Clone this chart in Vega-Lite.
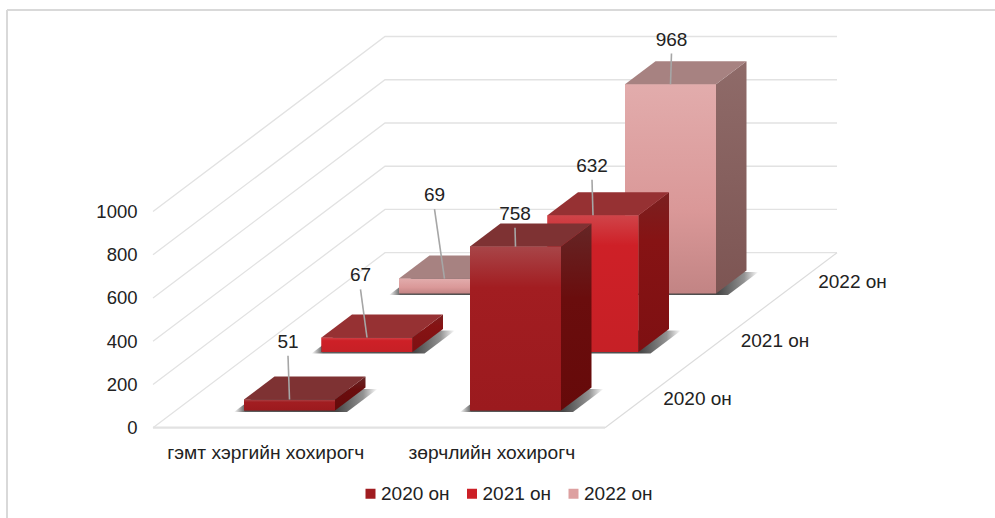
{
"$schema":"https://vega.github.io/schema/vega-lite/v6.json",
"width":995,"height":518,"padding":0,"autosize":{"type":"none"},"background":"white",
"config":{"view":{"stroke":null},"font":"Liberation Sans"},
"datasets":{"grid":[{"value":0},{"value":200},{"value":400},{"value":600},{"value":800},{"value":1000}]},
"data":{"values":[
{"cat":"гэмт хэргийн хохирогч","series":"2020 он","value":51},
{"cat":"гэмт хэргийн хохирогч","series":"2021 он","value":67},
{"cat":"гэмт хэргийн хохирогч","series":"2022 он","value":69},
{"cat":"зөрчлийн хохирогч","series":"2020 он","value":758},
{"cat":"зөрчлийн хохирогч","series":"2021 он","value":632},
{"cat":"зөрчлийн хохирогч","series":"2022 он","value":968}]},
"transform":[
{"calculate":"datum.cat=='гэмт хэргийн хохирогч'?0:1","as":"ci"},
{"calculate":"indexof(['2020 он','2021 он','2022 он'],datum.series)","as":"si"},
{"calculate":"datum.cat+datum.series","as":"key"},
{"calculate":"[0,1]","as":"t"},{"flatten":["t"]},
{"calculate":"244+226*datum.ci+77.5*datum.si+30.5*datum.t","as":"xa"},
{"calculate":"datum.xa+91","as":"xb"},
{"calculate":"datum.xa-10","as":"xsa"},
{"calculate":"datum.xb+12","as":"xsb"},
{"calculate":"79.6+270.6*datum.si+106.4*datum.t","as":"ub"},
{"calculate":"datum.ub+datum.value","as":"ut"},
{"calculate":"datum.ub-7","as":"us"},
{"calculate":"datum.xa+45.5","as":"xm"},
{"calculate":"datum.xm+[-1.5,-6.5,-10,-0.5,-1,1][indexof([51,67,69,758,632,968],datum.value)]","as":"xl"},
{"calculate":"datum.ut+[202,223,321,87,165,142][indexof([51,67,69,758,632,968],datum.value)]","as":"ul"},
{"calculate":"datum.xa+453.5","as":"xsl"},
{"calculate":"datum.ub+53","as":"usl"},
{"calculate":"datum.xa+21.8","as":"xcl"}
],
"layer":[
{"data":{"values":[{}]},"mark":{"type":"rule","stroke":"#d9d9d9","strokeWidth":2},"encoding":{
 "x":{"datum":7,"type":"quantitative","scale":{"domain":[0,995],"nice":false,"zero":false},"axis":null},
 "y":{"datum":1932,"type":"quantitative","scale":{"domain":[-417.7,1978.3],"nice":false,"zero":false},"axis":{"values":[0,200,400,600,800,1000],"format":"d","offset":-137,"domain":false,"ticks":false,"grid":false,"labelPadding":0,"labelFontSize":18.5,"labelColor":"#222222","labelFont":"Liberation Sans","title":null}},
 "y2":{"datum":-417.7}}},
{"data":{"values":[{}]},"mark":{"type":"rule","stroke":"#d9d9d9","strokeWidth":2},"encoding":{
 "x":{"datum":7,"type":"quantitative"},"x2":{"datum":995},
 "y":{"datum":1932,"type":"quantitative"}}},
{"data":{"name":"grid"},"transform":[{"calculate":"[0,1,2]","as":"k"},{"flatten":["k"]},
  {"calculate":"[153,385,837][datum.k]","as":"gx"},{"calculate":"datum.value+(datum.k==0?0:809.4)","as":"gu"}],
 "mark":{"type":"line","stroke":"#e2e2e2","strokeWidth":1.3},
 "encoding":{"x":{"field":"gx","type":"quantitative"},"y":{"field":"gu","type":"quantitative"},"detail":{"field":"value"}}},
{"data":{"values":[{}]},"mark":{"type":"rule","stroke":"#e2e2e2","strokeWidth":2.2},"encoding":{
 "x":{"datum":153,"type":"quantitative"},"x2":{"datum":605},"y":{"datum":0,"type":"quantitative"}}},
{"data":{"values":[{}]},"mark":{"type":"rule","stroke":"#dcdcdc","strokeWidth":1.2},"encoding":{
 "x":{"datum":605,"type":"quantitative"},"x2":{"datum":837},"y":{"datum":0,"type":"quantitative"},"y2":{"datum":809.4}}},

{"transform":[{"filter":"datum.t==0"}],"mark":{"type":"rect"},"encoding":{
 "x":{"field":"xa","type":"quantitative"},"x2":{"field":"xb"},"y":{"field":"ub","type":"quantitative"},"y2":{"field":"ut"},
 "color":{"field":"series","type":"nominal","scale":{"domain":["2020 он","2021 он","2022 он"],"range":["#a01c20","#cc2027","#dda0a0"]},
  "legend":{"title":null,"orient":"none","legendX":361,"legendY":484,"direction":"horizontal","columns":3,"symbolType":"square","symbolSize":100,"labelFontSize":19,"labelColor":"#222222","labelFont":"Liberation Sans","labelOffset":1,"columnPadding":12.5,"symbolStrokeWidth":0}}}},

{"mark":{"type":"area","orient":"horizontal","fill":{"gradient":"linear","x1":0,"y1":0,"x2":1,"y2":0,"stops":[{"offset":0,"color":"rgba(40,40,40,0)"},{"offset":0.08,"color":"rgba(40,40,40,0.75)"},{"offset":0.72,"color":"rgba(40,40,40,0.85)"},{"offset":0.9,"color":"rgba(40,40,40,0.5)"},{"offset":1,"color":"rgba(40,40,40,0)"}]}},
 "encoding":{"y":{"field":"us","type":"quantitative","stack":null},"x":{"field":"xsa","type":"quantitative","stack":null},"x2":{"field":"xsb"},"detail":{"field":"key"}}},

{"transform":[{"filter":"datum.si==2&&datum.t==0"}],"mark":{"type":"rect","fill":{"gradient":"linear","x1":0,"y1":0,"x2":0,"y2":1,"stops":[{"offset":0,"color":"#e2acac"},{"offset":0.6,"color":"#da9898"},{"offset":1,"color":"#c28484"}]}},
 "encoding":{"x":{"field":"xa","type":"quantitative"},"x2":{"field":"xb"},"y":{"field":"ub","type":"quantitative"},"y2":{"field":"ut"}}},
{"transform":[{"filter":"datum.si==2"}],"mark":{"type":"area","orient":"vertical","fill":{"gradient":"linear","x1":0,"y1":0,"x2":0,"y2":1,"stops":[{"offset":0,"color":"#8f6b69"},{"offset":1,"color":"#7d5553"}]}},
 "encoding":{"x":{"field":"xb","type":"quantitative","stack":null},"y":{"field":"ub","type":"quantitative","stack":null},"y2":{"field":"ut"},"detail":{"field":"key"}}},
{"transform":[{"filter":"datum.si==2"}],"mark":{"type":"area","orient":"horizontal","fill":"#a78281"},
 "encoding":{"y":{"field":"ut","type":"quantitative","stack":null},"x":{"field":"xa","type":"quantitative","stack":null},"x2":{"field":"xb"},"detail":{"field":"key"}}},

{"transform":[{"filter":"datum.si==1&&datum.t==0"}],"mark":{"type":"rect","fill":{"gradient":"linear","x1":0,"y1":0,"x2":0,"y2":1,"stops":[{"offset":0,"color":"#d04449"},{"offset":0.22,"color":"#ce2027"},{"offset":1,"color":"#c62026"}]}},
 "encoding":{"x":{"field":"xa","type":"quantitative"},"x2":{"field":"xb"},"y":{"field":"ub","type":"quantitative"},"y2":{"field":"ut"}}},
{"transform":[{"filter":"datum.si==1"}],"mark":{"type":"area","orient":"vertical","fill":{"gradient":"linear","x1":0,"y1":0,"x2":0,"y2":1,"stops":[{"offset":0,"color":"#7a2020"},{"offset":0.3,"color":"#861314"},{"offset":1,"color":"#7e1012"}]}},
 "encoding":{"x":{"field":"xb","type":"quantitative","stack":null},"y":{"field":"ub","type":"quantitative","stack":null},"y2":{"field":"ut"},"detail":{"field":"key"}}},
{"transform":[{"filter":"datum.si==1"}],"mark":{"type":"area","orient":"horizontal","fill":"#963133"},
 "encoding":{"y":{"field":"ut","type":"quantitative","stack":null},"x":{"field":"xa","type":"quantitative","stack":null},"x2":{"field":"xb"},"detail":{"field":"key"}}},

{"transform":[{"filter":"datum.si==0&&datum.t==0"}],"mark":{"type":"rect","fill":{"gradient":"linear","x1":0,"y1":0,"x2":0,"y2":1,"stops":[{"offset":0,"color":"#a84548"},{"offset":0.25,"color":"#a21d21"},{"offset":1,"color":"#9b1a1e"}]}},
 "encoding":{"x":{"field":"xa","type":"quantitative"},"x2":{"field":"xb"},"y":{"field":"ub","type":"quantitative"},"y2":{"field":"ut"}}},
{"transform":[{"filter":"datum.si==0"}],"mark":{"type":"area","orient":"vertical","fill":{"gradient":"linear","x1":0,"y1":0,"x2":0,"y2":1,"stops":[{"offset":0,"color":"#652626"},{"offset":0.4,"color":"#6a0d0d"},{"offset":1,"color":"#660a0a"}]}},
 "encoding":{"x":{"field":"xb","type":"quantitative","stack":null},"y":{"field":"ub","type":"quantitative","stack":null},"y2":{"field":"ut"},"detail":{"field":"key"}}},
{"transform":[{"filter":"datum.si==0"}],"mark":{"type":"area","orient":"horizontal","fill":"#7e3233"},
 "encoding":{"y":{"field":"ut","type":"quantitative","stack":null},"x":{"field":"xa","type":"quantitative","stack":null},"x2":{"field":"xb"},"detail":{"field":"key"}}},

{"transform":[{"filter":"datum.t==0"}],"mark":{"type":"rule","stroke":"#a6a6a6","strokeWidth":1.6},
 "encoding":{"x":{"field":"xl","type":"quantitative"},"x2":{"field":"xm"},"y":{"field":"ul","type":"quantitative"},"y2":{"field":"ut"}}},
{"transform":[{"filter":"datum.t==0"}],"mark":{"type":"text","fontSize":19,"color":"#222222","baseline":"middle","align":"center","dy":-14},
 "encoding":{"x":{"field":"xl","type":"quantitative"},"y":{"field":"ul","type":"quantitative"},"text":{"field":"value","type":"quantitative"}}},
{"transform":[{"filter":"datum.t==0&&datum.si==0"}],"mark":{"type":"text","fontSize":19.2,"color":"#222222","baseline":"middle","align":"center"},
 "encoding":{"x":{"field":"xcl","type":"quantitative"},"y":{"datum":-116,"type":"quantitative"},"text":{"field":"cat","type":"nominal"}}},
{"transform":[{"filter":"datum.t==0&&datum.ci==0"}],"mark":{"type":"text","fontSize":19,"color":"#222222","baseline":"middle","align":"center"},
 "encoding":{"x":{"field":"xsl","type":"quantitative"},"y":{"field":"usl","type":"quantitative"},"text":{"field":"series","type":"nominal"}}}
]
}
